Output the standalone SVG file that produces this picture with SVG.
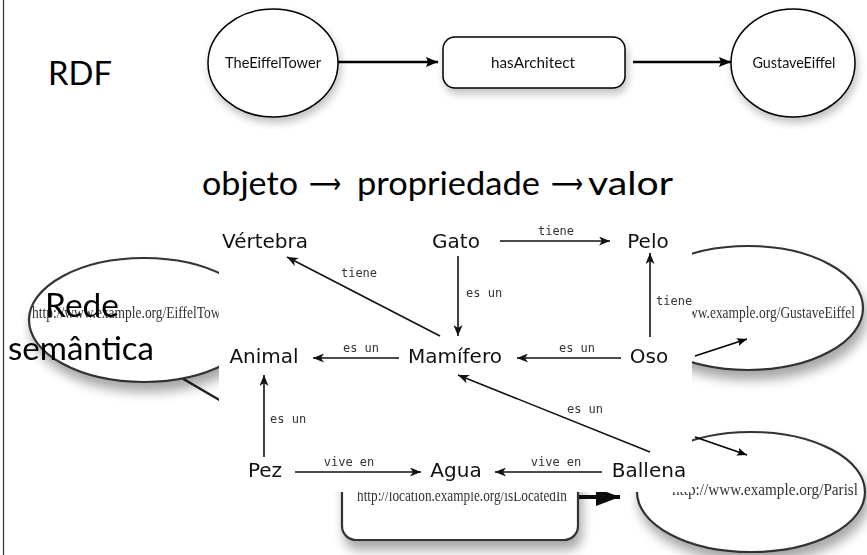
<svg xmlns="http://www.w3.org/2000/svg" width="867" height="555" viewBox="0 0 867 555">
<style>
.slide{font-family:Lato,"Open Sans","DejaVu Sans",sans-serif;fill:#000}
.rdfl{font-family:Lato,"Open Sans",sans-serif;font-size:15px;fill:#111;text-anchor:middle}
.node{font-family:"DejaVu Sans",sans-serif;font-size:20px;fill:#111;text-anchor:middle}
.lbl{font-family:"DejaVu Sans Mono",monospace;font-size:12px;fill:#333}
.sem{stroke:#111;stroke-width:1.6;fill:none;marker-end:url(#semArrow)}
.rdfe{stroke:#000;stroke-width:2.5;fill:none;marker-end:url(#rdfArrow)}
.url{font-family:"Liberation Serif",serif;font-size:17px;fill:#333}
.bgshape{fill:#fff;stroke:#333;stroke-width:2.2}
</style>
<defs>
<marker id="rdfArrow" markerUnits="userSpaceOnUse" markerWidth="12" markerHeight="10" refX="12" refY="5" orient="auto"><path d="M0,0 L12,5 L0,10 L2,5 z" fill="#000"/></marker>
<marker id="semArrow" markerUnits="userSpaceOnUse" markerWidth="11" markerHeight="9" refX="11" refY="4.5" orient="auto"><path d="M0,0 L11,4.5 L0,9 L3,4.5 z" fill="#111"/></marker>
<marker id="thinArrow" markerUnits="userSpaceOnUse" markerWidth="10" markerHeight="8" refX="10" refY="4" orient="auto"><path d="M0,0 L10,4 L0,8 L2,4 z" fill="#000"/></marker>
<marker id="bigArrow" markerUnits="userSpaceOnUse" markerWidth="24" markerHeight="18" refX="24" refY="9" orient="auto"><path d="M0,0 L24,9 L0,18 z" fill="#111"/></marker>
<filter id="shadow" x="-20%" y="-20%" width="140%" height="150%"><feGaussianBlur in="SourceAlpha" stdDeviation="4"/><feOffset dx="2" dy="5"/><feComponentTransfer><feFuncA type="linear" slope="0.25"/></feComponentTransfer><feMerge><feMergeNode/><feMergeNode in="SourceGraphic"/></feMerge></filter>
<filter id="bgshadow" x="-20%" y="-20%" width="140%" height="160%"><feGaussianBlur in="SourceAlpha" stdDeviation="6"/><feOffset dx="3" dy="9"/><feComponentTransfer><feFuncA type="linear" slope="0.35"/></feComponentTransfer><feMerge><feMergeNode/><feMergeNode in="SourceGraphic"/></feMerge></filter>
<filter id="soft"><feGaussianBlur stdDeviation="0.6"/></filter>
</defs>
<rect width="867" height="555" fill="#fff"/>
<line x1="3.5" y1="0" x2="3.5" y2="555" stroke="#333" stroke-width="1.2"/>

<!-- RDF header -->
<text id="rdf-title" class="slide" x="48" y="85" font-size="33" textLength="64" lengthAdjust="spacingAndGlyphs">RDF</text>

<g id="connectors-rdf">
<line class="rdfe" x1="338" y1="62" x2="438" y2="62"/>
<line class="rdfe" x1="633" y1="62" x2="731" y2="62"/>
</g>
<g id="n-TheEiffelTower" filter="url(#shadow)">
<ellipse cx="273" cy="63" rx="65" ry="54" fill="#fff" stroke="#000" stroke-width="1.5"/>
<text class="rdfl" x="273" y="68" textLength="96" lengthAdjust="spacingAndGlyphs">TheEiffelTower</text>
</g>
<g id="n-hasArchitect" filter="url(#shadow)">
<rect x="443" y="37" width="182" height="51" rx="12" fill="#fff" stroke="#000" stroke-width="1.5"/>
<text class="rdfl" x="533" y="68" textLength="84" lengthAdjust="spacingAndGlyphs">hasArchitect</text>
</g>
<g id="n-GustaveEiffel" filter="url(#shadow)">
<ellipse cx="793" cy="63" rx="62" ry="54" fill="#fff" stroke="#000" stroke-width="1.5"/>
<text class="rdfl" x="794" y="68" textLength="83" lengthAdjust="spacingAndGlyphs">GustaveEiffel</text>
</g>

<g id="triple">
<text class="slide" font-size="32" x="202" y="195" textLength="96" lengthAdjust="spacingAndGlyphs">objeto</text>
<text class="slide" font-family="DejaVu Sans" font-size="28" x="309" y="193" textLength="32" lengthAdjust="spacingAndGlyphs">⟶</text>
<text class="slide" font-size="32" x="357" y="195" textLength="183" lengthAdjust="spacingAndGlyphs">propriedade</text>
<text class="slide" font-family="DejaVu Sans" font-size="28" x="551" y="193" textLength="32" lengthAdjust="spacingAndGlyphs">⟶</text>
<text class="slide" font-size="32" x="588" y="195" textLength="85" lengthAdjust="spacingAndGlyphs">valor</text>
</g>

<!-- background blurred URI graph -->
<g id="bg-graph" filter="url(#soft)">
<line x1="180" y1="377" x2="240" y2="412" stroke="#222" stroke-width="2.5"/>
<line x1="578" y1="497" x2="620" y2="497" stroke="#111" stroke-width="4" marker-end="url(#bigArrow)"/>
<g id="bg-eiffel" filter="url(#bgshadow)"><ellipse class="bgshape" cx="144" cy="320" rx="115" ry="62"/></g>
<text class="url" x="32" y="318" textLength="199" lengthAdjust="spacingAndGlyphs">http://www.example.org/EiffelTower</text>
<g id="bg-gustave" filter="url(#bgshadow)"><ellipse class="bgshape" cx="748" cy="308" rx="115" ry="62"/></g>
<text class="url" x="646" y="318" textLength="209" lengthAdjust="spacingAndGlyphs">http://www.example.org/GustaveEiffel</text>
<g id="bg-paris" filter="url(#bgshadow)"><ellipse class="bgshape" cx="751" cy="492" rx="114" ry="60"/></g>
<text class="url" x="672" y="495" textLength="186" lengthAdjust="spacingAndGlyphs">http://www.example.org/Parisl</text>
<g id="bg-rect" filter="url(#bgshadow)"><rect class="bgshape" x="342" y="400" width="236" height="140" rx="14" stroke-width="3"/></g>
<text class="url" x="357" y="501" font-size="15" textLength="210" lengthAdjust="spacingAndGlyphs">http://location.example.org/isLocatedIn</text>
</g>

<!-- semantic network picture -->
<rect id="sem-bg" x="219" y="215" width="473" height="277" fill="#fff"/>
<g id="connectors">
<line class="sem" x1="500" y1="241" x2="610" y2="241"/>
<line class="sem" x1="440" y1="336" x2="287" y2="257"/>
<line class="sem" x1="458" y1="256" x2="458" y2="336"/>
<line class="sem" x1="650" y1="337" x2="650" y2="253"/>
<line class="sem" x1="399" y1="358" x2="313" y2="358"/>
<line class="sem" x1="621" y1="358" x2="517" y2="358"/>
<line class="sem" x1="650" y1="452" x2="458" y2="375"/>
<line class="sem" x1="264" y1="457" x2="264" y2="375"/>
<line class="sem" x1="295" y1="472" x2="421" y2="472"/>
<line class="sem" x1="602" y1="472" x2="495" y2="472"/>
<text class="lbl" x="556" y="235" text-anchor="middle">tiene</text>
<text class="lbl" x="359" y="277" text-anchor="middle">tiene</text>
<text class="lbl" x="466" y="297">es un</text>
<text class="lbl" x="656" y="305">tiene</text>
<text class="lbl" x="361" y="352" text-anchor="middle">es un</text>
<text class="lbl" x="577" y="352" text-anchor="middle">es un</text>
<text class="lbl" x="585" y="413" text-anchor="middle">es un</text>
<text class="lbl" x="270" y="423">es un</text>
<text class="lbl" x="349" y="466" text-anchor="middle">vive en</text>
<text class="lbl" x="556" y="466" text-anchor="middle">vive en</text>
<line x1="695" y1="356" x2="747" y2="339" stroke="#000" stroke-width="1.5" marker-end="url(#thinArrow)"/>
<line x1="695" y1="437" x2="747" y2="455" stroke="#000" stroke-width="1.5" marker-end="url(#thinArrow)"/>
</g>
<g id="n-Vertebra"><text class="node" x="265" y="248">Vértebra</text></g>
<g id="n-Gato"><text class="node" x="456" y="248">Gato</text></g>
<g id="n-Pelo"><text class="node" x="648" y="248">Pelo</text></g>
<g id="n-Animal"><text class="node" x="264" y="363">Animal</text></g>
<g id="n-Mamifero"><text class="node" x="455" y="363">Mamífero</text></g>
<g id="n-Oso"><text class="node" x="649" y="363">Oso</text></g>
<g id="n-Pez"><text class="node" x="265" y="477">Pez</text></g>
<g id="n-Agua"><text class="node" x="456" y="477">Agua</text></g>
<g id="n-Ballena"><text class="node" x="649" y="477">Ballena</text></g>

<g id="label-rede">
<text class="slide" font-size="33" x="45" y="317" textLength="74" lengthAdjust="spacingAndGlyphs">Rede</text>
<text class="slide" font-size="33" x="8" y="360" textLength="146" lengthAdjust="spacingAndGlyphs">semântica</text>
</g>
</svg>
